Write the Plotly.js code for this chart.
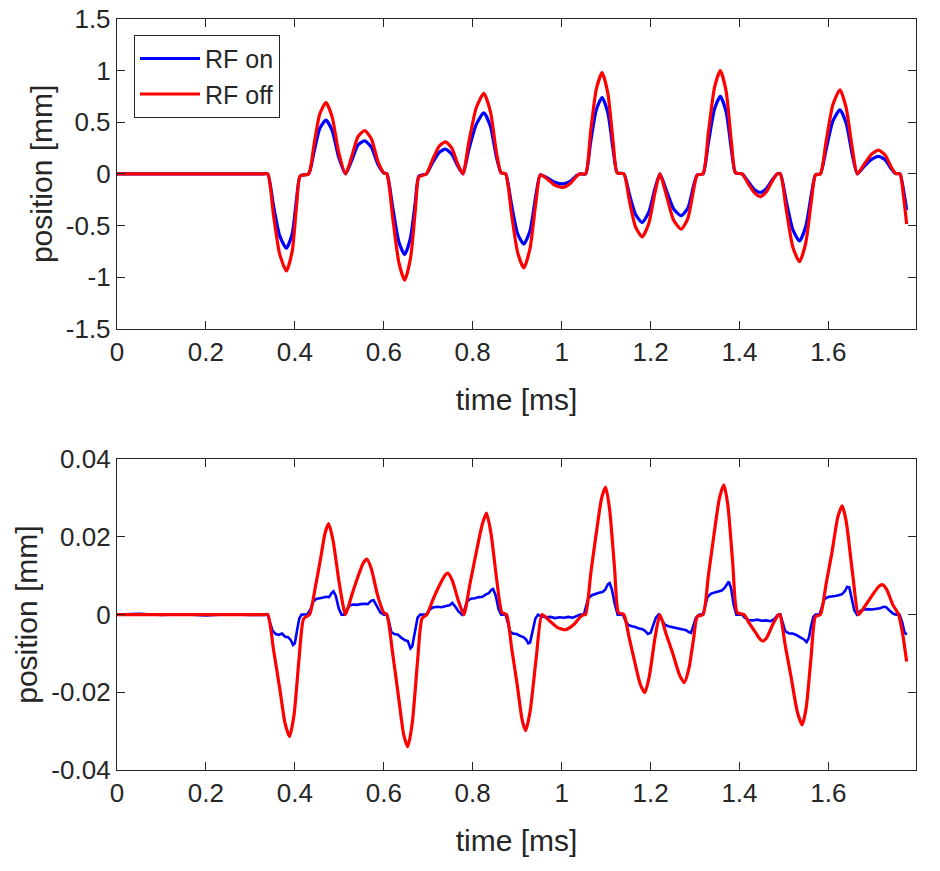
<!DOCTYPE html>
<html>
<head>
<meta charset="utf-8">
<script src="https://cdn.plot.ly/plotly-3.0.1.min.js"></script>
<style>
  html, body { margin: 0; padding: 0; background: #fff; }
  #chart { width: 940px; height: 871px; }
</style>
</head>
<body>
<div id="chart"></div>
<script>
const topTime = [0, 0.1, 0.2, 0.3, 0.33, 0.339,
  0.352, 0.366, 0.381, 0.394, 0.404, 0.412, 0.431,
  0.443, 0.456, 0.470, 0.484, 0.498, 0.514,
  0.528, 0.542, 0.557, 0.572, 0.587, 0.600, 0.607,
  0.620, 0.634, 0.647, 0.660, 0.671, 0.679, 0.696,
  0.710, 0.725, 0.739, 0.753, 0.766, 0.778,
  0.791, 0.808, 0.825, 0.840, 0.853, 0.864, 0.874,
  0.887, 0.901, 0.915, 0.929, 0.942, 0.952,
  0.968, 0.985, 1.003, 1.020, 1.034, 1.042, 1.054,
  1.065, 1.078, 1.091, 1.104, 1.116, 1.125, 1.140,
  1.152, 1.166, 1.181, 1.196, 1.210, 1.221,
  1.234, 1.252, 1.269, 1.284, 1.297, 1.305, 1.318,
  1.330, 1.344, 1.357, 1.370, 1.382, 1.391, 1.406,
  1.419, 1.433, 1.447, 1.461, 1.475, 1.485, 1.492,
  1.505, 1.520, 1.535, 1.549, 1.562, 1.571, 1.582,
  1.595, 1.610, 1.626, 1.640, 1.654, 1.665,
  1.680, 1.697, 1.713, 1.728, 1.742, 1.751, 1.761,
  1.769, 1.776];

const topRfOff = [0, 0, 0, 0, 0, 0,
  -0.40, -0.78, -0.94, -0.75, -0.30, -0.02, 0,
  0.28, 0.58, 0.69, 0.55, 0.22, 0,
  0.17, 0.36, 0.42, 0.34, 0.12, 0.01, 0,
  -0.42, -0.86, -1.03, -0.82, -0.35, -0.03, 0,
  0.14, 0.27, 0.31, 0.25, 0.10, 0,
  0.30, 0.64, 0.78, 0.60, 0.22, 0.01, 0,
  -0.38, -0.76, -0.91, -0.72, -0.28, -0.01,
  -0.05, -0.11, -0.13, -0.09, -0.02, 0, 0,
  0.40, 0.82, 0.98, 0.78, 0.30, 0.01, 0,
  -0.25, -0.51, -0.61, -0.48, -0.18, 0,
  -0.18, -0.45, -0.535, -0.43, -0.15, -0.01, 0,
  0.40, 0.84, 1.00, 0.80, 0.30, 0.01, 0,
  -0.09, -0.18, -0.22, -0.17, -0.06, 0, 0,
  -0.34, -0.71, -0.85, -0.67, -0.25, -0.01, 0,
  0.32, 0.67, 0.815, 0.64, 0.24, 0,
  0.09, 0.19, 0.23, 0.18, 0.06, 0.005, 0,
  -0.22, -0.485];

const topRfOn = [0, 0, 0, 0, 0, 0,
  -0.31, -0.60, -0.72, -0.58, -0.24, -0.02, 0,
  0.21, 0.44, 0.52, 0.42, 0.17, 0,
  0.13, 0.28, 0.32, 0.26, 0.09, 0.01, 0,
  -0.32, -0.66, -0.78, -0.62, -0.27, -0.02, 0,
  0.11, 0.21, 0.24, 0.19, 0.08, 0,
  0.23, 0.48, 0.59, 0.46, 0.17, 0.01, 0,
  -0.29, -0.58, -0.68, -0.55, -0.21, -0.01,
  -0.04, -0.08, -0.097, -0.07, -0.015, 0, 0,
  0.30, 0.62, 0.74, 0.59, 0.23, 0.01, 0,
  -0.19, -0.39, -0.47, -0.37, -0.14, 0,
  -0.14, -0.34, -0.405, -0.33, -0.11, -0.01, 0,
  0.30, 0.63, 0.75, 0.60, 0.23, 0.01, 0,
  -0.07, -0.15, -0.18, -0.14, -0.05, 0, 0,
  -0.26, -0.54, -0.65, -0.51, -0.19, -0.01, 0,
  0.24, 0.51, 0.62, 0.49, 0.18, 0,
  0.07, 0.14, 0.17, 0.135, 0.045, 0.004, 0,
  -0.16, -0.35];

const bottomOffTime = [0, 0.1, 0.2, 0.3, 0.33, 0.339,
  0.352, 0.366, 0.378, 0.388, 0.398, 0.409, 0.420, 0.433,
  0.446, 0.458, 0.468, 0.476, 0.486, 0.500, 0.514,
  0.528, 0.542, 0.554, 0.562, 0.572, 0.586, 0.600, 0.607,
  0.620, 0.633, 0.645, 0.654, 0.664, 0.676, 0.686, 0.697,
  0.711, 0.725, 0.737, 0.744, 0.754, 0.768, 0.780,
  0.794, 0.808, 0.821, 0.831, 0.841, 0.854, 0.866, 0.876,
  0.888, 0.900, 0.911, 0.919, 0.929, 0.943, 0.956,
  0.972, 0.990, 1.009, 1.028, 1.042, 1.050, 1.054,
  1.066, 1.078, 1.090, 1.099, 1.108, 1.119, 1.128, 1.140,
  1.152, 1.164, 1.177, 1.187, 1.197, 1.210, 1.221,
  1.235, 1.250, 1.265, 1.276, 1.286, 1.297, 1.305, 1.318,
  1.330, 1.342, 1.355, 1.365, 1.374, 1.385, 1.395, 1.410,
  1.422, 1.436, 1.446, 1.453, 1.462, 1.475, 1.488, 1.491,
  1.503, 1.516, 1.530, 1.541, 1.550, 1.561, 1.571, 1.582,
  1.595, 1.608, 1.621, 1.631, 1.640, 1.655, 1.668,
  1.684, 1.700, 1.713, 1.721, 1.731, 1.745, 1.758,
  1.767, 1.776];

const bottomRfOff = [0, 0, 0, 0, 0, 0,
  -0.009, -0.019, -0.028, -0.0314, -0.026, -0.012, -0.001, 0,
  0.007, 0.0145, 0.021, 0.0234, 0.019, 0.008, 0,
  0.005, 0.0098, 0.0133, 0.0143, 0.0118, 0.005, 0.0005, 0,
  -0.010, -0.021, -0.031, -0.034, -0.028, -0.012, -0.001, 0,
  0.004, 0.0075, 0.0100, 0.0107, 0.0088, 0.0035, 0,
  0.008, 0.016, 0.023, 0.0261, 0.021, 0.009, 0.0005, 0,
  -0.009, -0.018, -0.027, -0.0299, -0.025, -0.011, 0,
  -0.0015, -0.0033, -0.0039, -0.0025, -0.0006, 0, 0,
  0.011, 0.021, 0.030, 0.0328, 0.027, 0.012, 0.0005, 0,
  -0.006, -0.012, -0.018, -0.0201, -0.016, -0.006, 0,
  -0.005, -0.010, -0.0155, -0.0175, -0.014, -0.006, -0.0005, 0,
  0.010, 0.020, 0.030, 0.0334, 0.028, 0.013, 0.0005, 0,
  -0.0022, -0.0046, -0.0063, -0.0068, -0.0058, -0.0025, 0, 0,
  -0.008, -0.016, -0.025, -0.0284, -0.024, -0.011, -0.0005, 0,
  0.008, 0.016, 0.025, 0.028, 0.024, 0.010, 0,
  0.0025, 0.0052, 0.0072, 0.0077, 0.0065, 0.0025, 0,
  -0.005, -0.0121];

const bottomOnTime = [0, 0.05, 0.1, 0.15, 0.2, 0.25, 0.3, 0.339,
  0.344, 0.350, 0.357, 0.364, 0.371, 0.378, 0.385, 0.391, 0.396, 0.400, 0.405, 0.410, 0.415, 0.428,
  0.436, 0.441, 0.448, 0.456, 0.464, 0.471, 0.477, 0.483, 0.487, 0.492, 0.499, 0.505, 0.512,
  0.518, 0.524, 0.532, 0.540, 0.548, 0.556, 0.564, 0.572, 0.577, 0.584, 0.592, 0.600, 0.607,
  0.612, 0.617, 0.624, 0.632, 0.640, 0.648, 0.654, 0.660, 0.664, 0.670, 0.676, 0.682, 0.696,
  0.702, 0.710, 0.720, 0.730, 0.740, 0.748, 0.754, 0.760, 0.768, 0.776,
  0.782, 0.788, 0.796, 0.805, 0.814, 0.822, 0.830, 0.836, 0.842, 0.846, 0.852, 0.858, 0.864, 0.874,
  0.879, 0.884, 0.891, 0.899, 0.907, 0.914, 0.920, 0.925, 0.929, 0.935, 0.941, 0.947,
  0.955, 0.965, 0.975, 0.985, 0.995, 1.005, 1.015, 1.025, 1.035, 1.042, 1.050,
  1.055, 1.060, 1.068, 1.076, 1.084, 1.092, 1.098, 1.104, 1.108, 1.113, 1.119, 1.126, 1.138,
  1.143, 1.150, 1.158, 1.166, 1.174, 1.182, 1.188, 1.194, 1.200, 1.206, 1.212, 1.218,
  1.225, 1.232, 1.240, 1.248, 1.256, 1.264, 1.272, 1.280, 1.286, 1.291, 1.296, 1.302, 1.310, 1.318,
  1.322, 1.328, 1.336, 1.344, 1.352, 1.360, 1.366, 1.372, 1.376, 1.381, 1.387, 1.393, 1.406,
  1.412, 1.420, 1.430, 1.440, 1.450, 1.460, 1.470, 1.478, 1.485, 1.492,
  1.497, 1.503, 1.511, 1.519, 1.527, 1.534, 1.540, 1.545, 1.551, 1.556, 1.561, 1.566, 1.571, 1.580,
  1.585, 1.591, 1.599, 1.607, 1.615, 1.623, 1.630, 1.637, 1.642, 1.647, 1.652, 1.658, 1.664,
  1.670, 1.678, 1.688, 1.698, 1.708, 1.716, 1.724, 1.730, 1.738, 1.746, 1.752, 1.760,
  1.766, 1.771, 1.776];

const bottomRfOn = [0, 0.0002, -0.0001, 0.0001, -0.0002, 0.0001, -0.0001, 0,
  -0.002, -0.0042, -0.0050, -0.0052, -0.0049, -0.0057, -0.0058, -0.0066, -0.0078, -0.0074, -0.004, -0.001, 0, 0.0001,
  0.0015, 0.0033, 0.0040, 0.0043, 0.0044, 0.0046, 0.0045, 0.0056, 0.0060, 0.0048, 0.0015, 0, 0,
  0.0015, 0.0024, 0.0026, 0.0025, 0.0027, 0.0028, 0.0027, 0.0036, 0.0037, 0.0024, 0.0006, 0, 0,
  -0.002, -0.0045, -0.0050, -0.0052, -0.0060, -0.0066, -0.0068, -0.0087, -0.0082, -0.004, -0.0008, 0, 0,
  0.0012, 0.0018, 0.0020, 0.0019, 0.0022, 0.0024, 0.0030, 0.0022, 0.0008, 0,
  0.0015, 0.0035, 0.0041, 0.0042, 0.0045, 0.0046, 0.0052, 0.0055, 0.0064, 0.0066, 0.0048, 0.0015, 0, 0,
  -0.002, -0.0044, -0.0049, -0.0050, -0.0055, -0.0058, -0.0064, -0.0074, -0.0072, -0.004, -0.001, 0,
  -0.0005, -0.0007, -0.0006, -0.0009, -0.0007, -0.0008, -0.0006, -0.0008, -0.0004, 0, 0,
  0.002, 0.0042, 0.0050, 0.0054, 0.0056, 0.0058, 0.0064, 0.0078, 0.0081, 0.0065, 0.003, 0, 0,
  -0.0015, -0.0027, -0.0030, -0.0032, -0.0036, -0.0038, -0.0042, -0.0050, -0.0047, -0.003, -0.0008, 0,
  -0.0014, -0.0026, -0.0030, -0.0032, -0.0035, -0.0036, -0.0038, -0.0040, -0.0045, -0.0047, -0.003, -0.0008, 0, 0,
  0.0018, 0.0045, 0.0054, 0.0056, 0.0060, 0.0062, 0.0068, 0.0080, 0.0085, 0.0068, 0.0025, 0, 0,
  -0.0008, -0.0014, -0.0015, -0.0013, -0.0016, -0.0015, -0.0017, -0.0012, -0.0002, 0,
  -0.002, -0.0043, -0.0048, -0.0049, -0.0052, -0.0056, -0.0060, -0.0064, -0.0071, -0.0060, -0.003, -0.0006, 0, 0,
  0.0018, 0.0040, 0.0045, 0.0046, 0.0048, 0.0050, 0.0052, 0.0060, 0.0071, 0.0070, 0.0045, 0.0012, 0,
  0.0008, 0.0013, 0.0014, 0.0013, 0.0015, 0.0016, 0.0020, 0.0019, 0.0010, 0.0002, 0, 0,
  -0.002, -0.0045, -0.0052];

const xTicks = [0, 0.2, 0.4, 0.6, 0.8, 1, 1.2, 1.4, 1.6];
const topTicks = [-1.5, -1, -0.5, 0, 0.5, 1, 1.5];
const topTickText = ["-1.5", "-1", "-0.5", "0", "0.5", "1", "1.5"];
const bottomTicks = [-0.04, -0.02, 0, 0.02, 0.04];
const bottomTickText = ["-0.04", "-0.02", "0", "0.02", "0.04"];

const ink = "#262626";
const font = "Liberation Sans, Arial, Helvetica, sans-serif";

function line(x, y, name, color, axis, opts = {}) {
  return {
    x, y, name, type: "scatter", mode: "lines",
    xaxis: axis[0], yaxis: axis[1],
    showlegend: opts.legend ?? false,
    line: { color, width: opts.width ?? 3.2, shape: opts.shape ?? "spline", smoothing: 0.6 },
    hoverinfo: "skip",
  };
}

function xAxis(anchor) {
  return {
    anchor, domain: [0, 1], range: [0, 1.797],
    tickvals: xTicks, ticktext: xTicks.map(String),
    ticks: "inside", ticklen: 8, tickwidth: 1, tickcolor: ink,
    showline: true, linecolor: ink, linewidth: 1.2, mirror: "ticks",
    showgrid: false, zeroline: false,
    tickfont: { family: font, size: 26, color: ink },
    title: { text: "time [ms]", font: { family: font, size: 30, color: ink }, standoff: 22 },
  };
}

function yAxis(anchor, domain, range, vals, text) {
  return {
    anchor, domain, range,
    tickvals: vals, ticktext: text,
    ticks: "inside", ticklen: 8, tickwidth: 1, tickcolor: ink,
    showline: true, linecolor: ink, linewidth: 1.2, mirror: "ticks",
    showgrid: false, zeroline: false,
    tickfont: { family: font, size: 26, color: ink },
    title: { text: "position [mm]", font: { family: font, size: 30, color: ink }, standoff: 4 },
  };
}

const traces = [
  line(topTime, topRfOn, "RF on", "#0000ff", ["x", "y"], { legend: true }),
  line(topTime, topRfOff, "RF off", "#ff0000", ["x", "y"], { legend: true }),
  line(bottomOnTime, bottomRfOn, "RF on", "#0000ff", ["x2", "y2"], { width: 2.6, shape: "linear" }),
  line(bottomOffTime, bottomRfOff, "RF off", "#ff0000", ["x2", "y2"]),
];

const layout = {
  width: 940, height: 871,
  margin: { l: 117, r: 24, t: 19, b: 101 },
  paper_bgcolor: "#fff", plot_bgcolor: "#fff",
  font: { family: font, color: ink },
  xaxis: xAxis("y"),
  yaxis: yAxis("x", [0.5875, 1], [-1.5, 1.5], topTicks, topTickText),
  xaxis2: xAxis("y2"),
  yaxis2: yAxis("x2", [0, 0.4139], [-0.04, 0.04], bottomTicks, bottomTickText),
  legend: {
    x: 0.0213, y: 0.979, xanchor: "left", yanchor: "top",
    bgcolor: "#fff", bordercolor: ink, borderwidth: 1,
    font: { family: font, size: 25, color: ink },
    itemwidth: 60,
    tracegroupgap: 0,
  },
};

Plotly.newPlot("chart", traces, layout, { staticPlot: true });
</script>
</body>
</html>
